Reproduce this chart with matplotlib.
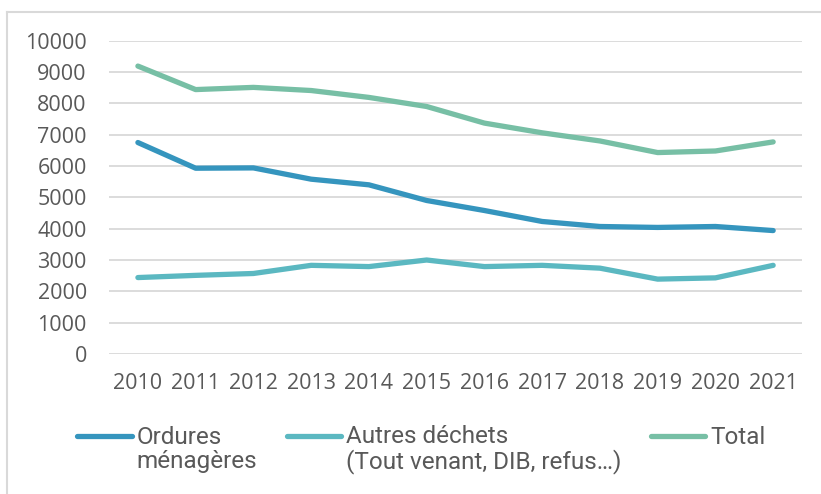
import matplotlib
matplotlib.use('Agg')
import matplotlib.pyplot as plt
from matplotlib.lines import Line2D
from matplotlib.legend_handler import HandlerLine2D

# tonnages collectés par année
years = ['2010', '2011', '2012', '2013', '2014', '2015', '2016', '2017', '2018', '2019', '2020', '2021']
ordures = [6750, 5930, 5940, 5580, 5400, 4900, 4580, 4230, 4070, 4040, 4070, 3940]
autres = [2440, 2510, 2570, 2830, 2790, 3000, 2790, 2830, 2740, 2390, 2430, 2830]
total = [9190, 8440, 8510, 8410, 8190, 7900, 7370, 7060, 6800, 6430, 6480, 6770]

labels = ['Ordures\nménagères', 'Autres déchets\n(Tout venant, DIB, refus…)', 'Total\n ']
colors = ['#3595be', '#5bb8c1', '#77bfa5']
text_color = '#595959'


class FirstLineHandler(HandlerLine2D):
    # place le trait de légende au niveau de la première ligne du libellé
    def create_artists(self, legend, orig_handle, xdescent, ydescent, width, height, fontsize, trans):
        arts = super().create_artists(legend, orig_handle, xdescent, ydescent, width, height, fontsize, trans)
        for a in arts:
            a.set_ydata([y + 0.6 * fontsize for y in a.get_ydata()])
        return arts


fig = plt.figure(figsize=(8.21, 4.94), dpi=100)
ax = fig.add_axes([0.1328, 0.2834, 0.8441, 0.6342])

x = range(len(years))
lines = []
for serie, lab, col in zip([ordures, autres, total], labels, colors):
    ln, = ax.plot(x, serie, color=col, lw=3.8, solid_capstyle='round', solid_joinstyle='round', label=lab)
    lines.append(ln)

ax.set_xlim(-0.5, len(years) - 0.5)
ax.set_ylim(0, 10000)
ax.set_yticks(range(0, 10001, 1000))
ax.set_xticks(list(x))
ax.set_xticklabels(years)
ax.grid(axis='y', color='#d9d9d9', lw=1.3)
ax.set_axisbelow(True)
for s in ax.spines.values():
    s.set_visible(False)
ax.tick_params(length=0, labelsize=15.5, labelcolor=text_color)
ax.tick_params(axis='x', pad=14)
ax.tick_params(axis='y', pad=16)
for t in ax.get_xticklabels() + ax.get_yticklabels():
    t.set_fontfamily('Open Sans')

leg = fig.legend(handles=lines, loc='upper left', bbox_to_anchor=(0.094, 0.139), ncol=3, frameon=False,
                 prop={'family': 'Roboto', 'size': 17.5}, labelcolor=text_color,
                 handlelength=2.25, handletextpad=0.2, columnspacing=1.2,
                 borderaxespad=0, borderpad=0,
                 handler_map={Line2D: FirstLineHandler()})
for t in leg.get_texts():
    t.set_linespacing(1.05)

# cadre du graphique
fig.add_artist(Line2D([7 / 821, 1], [1 - 12 / 494, 1 - 12 / 494], color='#d9d9d9', lw=1.5))
fig.add_artist(Line2D([7 / 821, 7 / 821], [0, 1 - 12 / 494], color='#d9d9d9', lw=1.5))

fig.savefig('out.png', dpi=100)
